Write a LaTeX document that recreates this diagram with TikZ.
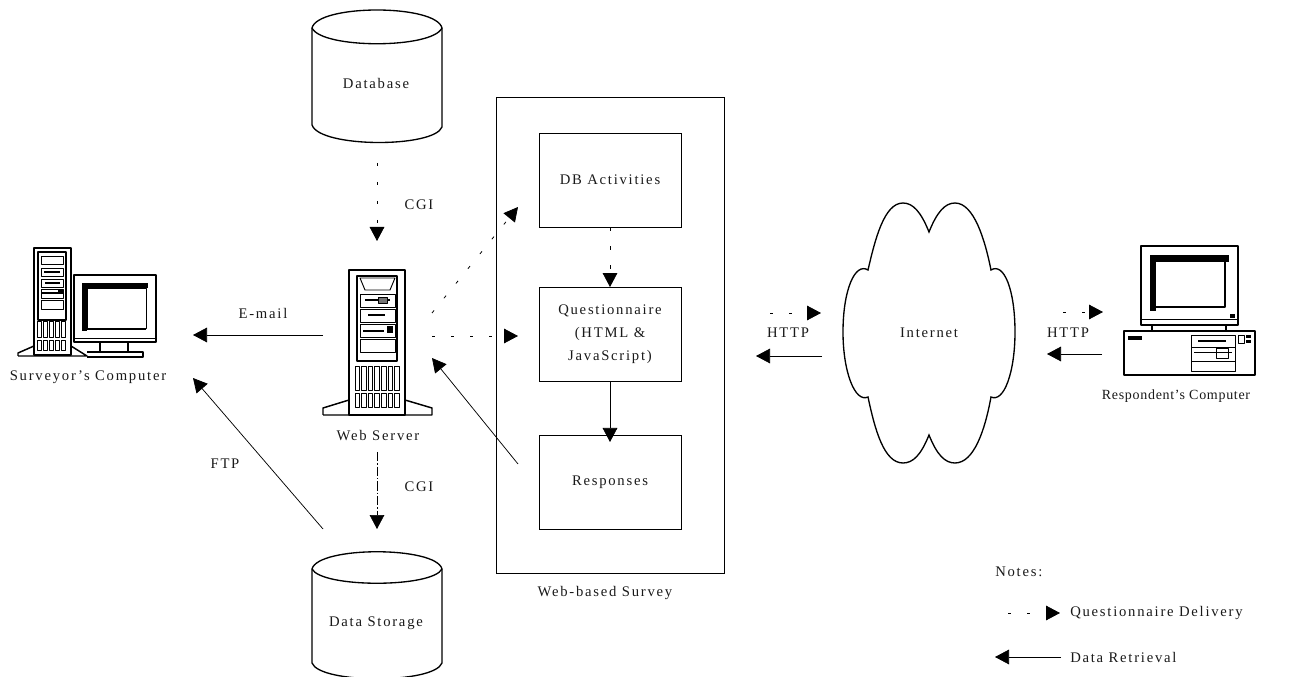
\documentclass[tikz,border=0pt]{standalone}
\usepackage{fontspec}
\setmainfont[LetterSpace=12]{Liberation Serif}
\usetikzlibrary{arrows.meta}
\tikzset{
  x=0.75pt,y=-0.75pt,
  lbl/.style={font=\fontsize{11}{17.25}\selectfont,inner sep=0pt,align=center,text=black!90},
  boxnode/.style={lbl,draw,line width=0.7pt,minimum width=106.5pt,minimum height=70.5pt},
  flow/.style={line width=0.55pt,-{Triangle[length=10.5pt,width=11pt]}},
  deliv/.style={line width=0.6pt,dash pattern=on 2.5pt off 11.75pt,-{Triangle[length=10.5pt,width=11pt]}},
  delivb/.style={line width=0.45pt,dash pattern=on 7pt off 1.5pt on 1pt off 1.5pt,-{Triangle[length=10.5pt,width=11pt]}},
  dbshape/.style={draw,line width=1pt,fill=white},
  art/.style={line width=0.9pt,line join=round},
  artk/.style={fill=black,draw=none},
}
\begin{document}
\begin{tikzpicture}
\useasboundingbox (0,0) rectangle (1290,677);
% cylinders
\draw[dbshape] (312,28) .. controls (318,4) and (436,4) .. (442,28) -- (442,127) .. controls (434,148) and (320,148) .. (312,125) -- cycle;
\draw[line width=1pt] (312,28) .. controls (322,49) and (432,49) .. (442,28);
\node[lbl] (db) at (376,83) {Database};
\draw[dbshape] (312,569) .. controls (318,546) and (436,546) .. (442,569) -- (442,663) .. controls (434,684) and (320,684) .. (312,663) -- cycle;
\draw[line width=1pt] (312,569) .. controls (322,588) and (432,588) .. (442,569);
\node[lbl] (ds) at (376,623) {Data Storage};
% survey box
\draw[line width=0.7pt] (496,97) rectangle (724,573);
\node[boxnode] (dba) at (610,180) {DB Activities};
\node[boxnode] (q) at (610,334.5) {Questionnaire\\(HTML \&\\JavaScript)};
\node[boxnode] (resp) at (610,482.5) {Responses};
\node[lbl] (wbs) at (605,593) {Web-based Survey};
% server
\begin{scope}[art]
\draw (349,270) rectangle (405,415);
\draw[line width=1.3pt] (357,276) rectangle (397,361);
\draw[line width=1.1pt] (323,415) -- (323,408) -- (349,400) (405,400) -- (432,408) -- (432,415) -- (323,415);
\draw[line width=0.7pt] (360,278) -- (395,278) -- (390,290) -- (365,290) -- cycle;
\draw[line width=0.7pt] (360,294) rectangle (395,307);
\draw[line width=0.7pt] (360,309) rectangle (395,322);
\draw[line width=0.7pt] (360,324) rectangle (395,337);
\draw[line width=0.6pt] (360,339) rectangle (395,352);
\draw[line width=1.3pt] (365,300) -- (390,300) (368,315) -- (385,315) (363,331) -- (384,331);
\draw[line width=0.5pt,fill=black!55] (378,297) rectangle (387,303);
\draw[artk] (387,326) rectangle (393,333);
\foreach \i in {0,...,6}{\draw[line width=0.7pt] (355+\i*6.6,366) rectangle +(4.6,24);\draw[line width=0.7pt] (355+\i*6.6,393) rectangle +(4.6,14);}
\end{scope}
\node[lbl] (ws) at (378,436) {Web Server};
\coordinate (wsn) at (377,241);
\coordinate (dbs) at (377,163);
\coordinate (wss) at (377,452);
\coordinate (dsn) at (377,529);
\coordinate (wse) at (432,336);
\coordinate (wsne) at (432,313);
\coordinate (wsse) at (432,358);
\coordinate (dbaw) at (518,207);
\coordinate (qw) at (518,336);
\coordinate (respw) at (518,464);
\coordinate (resptip) at (610,442);
% surveyor computer
\begin{scope}[art]
\draw (34,248) rectangle (71,355);
\draw[line width=1.1pt] (18,356) -- (18,353) -- (34,346) (71,346) -- (87,356) -- (18,356);
\draw[line width=1.3pt] (38,252) rectangle (66,320);
\draw[line width=0.7pt] (41,256) rectangle (63,264);
\draw[line width=0.7pt] (41,268) rectangle (63,276);
\draw[line width=0.7pt] (41,279) rectangle (63,287);
\draw[line width=0.7pt] (41,289) rectangle (63,298);
\draw[line width=0.7pt] (41,300) rectangle (63,309);
\draw[line width=1.6pt] (44,272) -- (60,272) (45,283) -- (60,283) (42,293) -- (59,293);
\draw[artk] (58,289) rectangle (63,294);
\foreach \i in {0,...,4}{\draw[line width=0.7pt] (37+\i*6.1,321) rectangle +(4,16);\draw[line width=0.7pt] (37+\i*6.1,340) rectangle +(4,10);}
\draw[fill=white] (74,275) rectangle (156,342);
\draw[artk] (82,283) rectangle (148,288);\draw[artk] (82,283) rectangle (87,331);
\draw[line width=0.7pt] (87,288) rectangle (146,328);\draw[line width=1.1pt] (87,329) -- (146,329);
\draw[line width=0.7pt] (74,338) -- (156,338);
\draw (100,342) -- (100,352) (128,342) -- (128,352) (87,352) -- (143,352) -- (143,357) -- (87,357);
\end{scope}
\node[lbl] (sc) at (88,377) {Surveyor's Computer};
\coordinate (scn) at (193,335);
\coordinate (sce) at (193,378);
\coordinate (wsw) at (323,335);
\coordinate (dsw) at (323,529);
% respondent computer
\begin{scope}[art]
\draw (1141,246) rectangle (1238,325);
\draw[artk] (1150,255) rectangle (1229,262);
\draw[artk] (1150,255) rectangle (1156,311);
\draw[line width=1.4pt] (1156,307) -- (1225,307) -- (1225,262);
\draw[line width=0.7pt] (1141,319) -- (1238,319);
\draw[artk] (1230,314) rectangle (1235,318);
\draw (1152,325) -- (1152,331) (1226,325) -- (1226,331);
\draw (1124,331) rectangle (1255,375);
\draw[artk] (1128,336) rectangle (1142,340);
\draw[line width=0.7pt] (1191,335) rectangle (1235,371);
\draw[line width=0.7pt] (1191,347) -- (1235,347) (1191,361) -- (1235,361) (1194,352) -- (1232,352);
\draw[line width=1.4pt] (1198,341) -- (1226,341);
\draw[line width=0.7pt] (1216,348) rectangle (1228,358);
\draw[line width=0.7pt] (1238,335) rectangle (1244,343);
\draw[artk] (1246,335) rectangle (1251,338);
\draw[artk] (1246,340) rectangle (1251,343);
\end{scope}
\node[lbl,font=\fontsize{10.5}{13}\selectfont\addfontfeature{LetterSpace=5}] (rc) at (1176,396) {Respondent's Computer};
% cloud
\draw[line width=1pt] (929,232)
 .. controls (921,212) and (913,203) .. (903,203)
 .. controls (884,203) and (875,240) .. (868,270)
 .. controls (855,262) and (843,290) .. (843,332)
 .. controls (843,372) and (855,403) .. (868,397)
 .. controls (875,430) and (884,463) .. (903,463)
 .. controls (913,463) and (921,455) .. (929,435)
 .. controls (937,455) and (945,463) .. (955,463)
 .. controls (974,463) and (985,430) .. (991,397)
 .. controls (1004,403) and (1015,372) .. (1015,332)
 .. controls (1015,290) and (1004,262) .. (991,270)
 .. controls (985,240) and (974,203) .. (955,203)
 .. controls (945,203) and (937,212) .. cycle;
\node[lbl] (inet) at (929,333) {Internet};
% connectors
\draw[deliv] (dbs) -- (wsn);
\node[lbl] (cgia) at (419,205) {CGI};
\draw[flow] (wsw) -- (scn);
\node[lbl] (em) at (263,313) {E-mail};
\draw[deliv] (wsne) -- (dbaw);
\draw[deliv] (wse) -- (qw);
\draw[deliv] (dba.south) -- (q.north);
\draw[flow] (q.south) -- (resptip);
\draw[flow] (respw) -- (wsse);
\draw[delivb] (wss) -- (dsn);
\node[lbl] (cgib) at (419,487) {CGI};
\draw[flow] (dsw) -- (sce);
\node[lbl] (ftp) at (225,464) {FTP};
\coordinate (ia) at (770,313);\coordinate (ib) at (821,313);
\coordinate (ic) at (822,356);\coordinate (id) at (756,356);
\draw[deliv] (ia) -- (ib);
\draw[flow] (ic) -- (id);
\node[lbl] (ha) at (788,333) {HTTP};
\coordinate (ie) at (1063,312);\coordinate (if) at (1103,312);
\coordinate (ig) at (1102,354);\coordinate (ih) at (1047,354);
\draw[deliv] (ie) -- (if);
\draw[flow] (ig) -- (ih);
\node[lbl] (hb) at (1068,333) {HTTP};
% notes
\node[lbl,anchor=west] (notes) at (995,572) {Notes:};
\coordinate (na) at (1008,613);\coordinate (nb) at (1060,613);
\coordinate (nc) at (1061,657);\coordinate (nd) at (995,657);
\draw[deliv] (na) -- (nb);
\node[lbl,anchor=west] (qd) at (1070,613) {Questionnaire Delivery};
\draw[flow] (nc) -- (nd);
\node[lbl,anchor=west] (dr) at (1070,657) {Data Retrieval};
\end{tikzpicture}
\end{document}
